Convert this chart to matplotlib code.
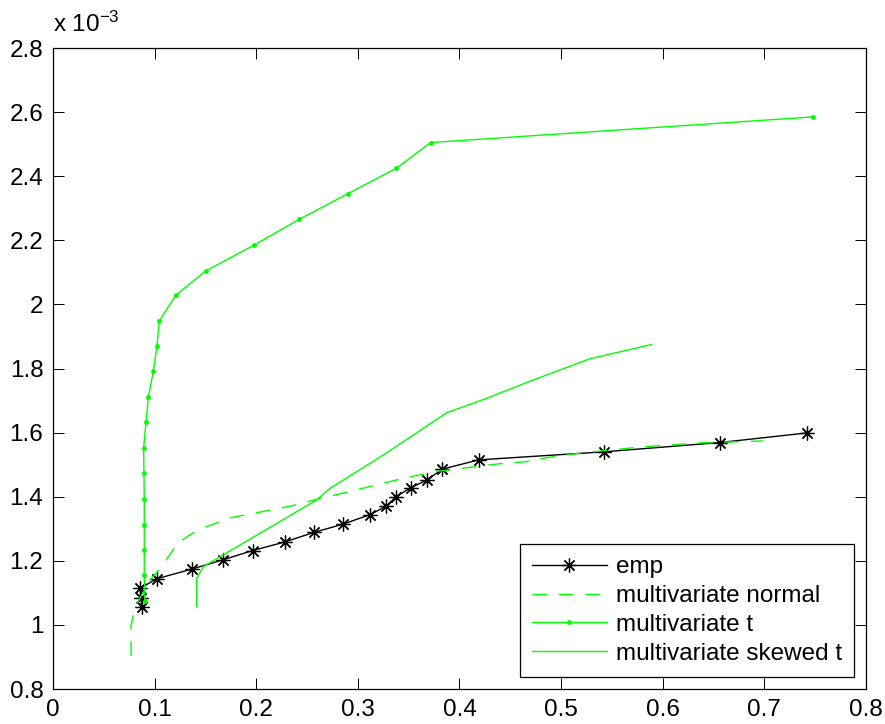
import numpy as np
import matplotlib
matplotlib.use("Agg")
import matplotlib.pyplot as plt
from matplotlib.ticker import FixedLocator, FuncFormatter

plt.rcParams['font.family'] = ['Liberation Sans', 'DejaVu Sans']
plt.rcParams['mathtext.default'] = 'regular'

# Portfolio risk (x) versus expected return (y, in units of 1e-3)
emp_risk = [0.0872, 0.0866, 0.0856, 0.1020, 0.1365, 0.1670, 0.1965, 0.2283,
            0.2570, 0.2850, 0.3120, 0.3280, 0.3375, 0.3520, 0.3680, 0.3830,
            0.4190, 0.5420, 0.6560, 0.7420]
emp_ret = [1.055, 1.085, 1.114, 1.144, 1.174, 1.203, 1.232, 1.259, 1.289,
           1.314, 1.344, 1.371, 1.400, 1.428, 1.452, 1.486, 1.515, 1.540,
           1.569, 1.599]

norm_risk = [0.0768, 0.0768, 0.0817, 0.0955, 0.1073, 0.1230, 0.1348, 0.1476,
             0.1742, 0.2037, 0.2342, 0.2608, 0.2903, 0.3198, 0.3493, 0.3779,
             0.4034, 0.4369, 0.4645, 0.4920, 0.5215, 0.5776, 0.6367, 0.6990]
norm_ret = [0.903, 1.000, 1.062, 1.140, 1.184, 1.256, 1.281, 1.302,
            1.334, 1.352, 1.371, 1.393, 1.415, 1.438, 1.461, 1.479,
            1.489, 1.502, 1.509, 1.525, 1.537, 1.555, 1.568, 1.574]

t_risk = [0.0905, 0.0898, 0.0898, 0.0898, 0.0898, 0.0895, 0.0892, 0.0915,
          0.0938, 0.0987, 0.1023, 0.1046, 0.1210, 0.1506, 0.1980, 0.2420,
          0.2900, 0.3380, 0.3716, 0.7480]
t_ret = [1.076, 1.156, 1.234, 1.313, 1.393, 1.473, 1.553, 1.632, 1.711,
         1.791, 1.870, 1.949, 2.029, 2.105, 2.185, 2.265, 2.345, 2.425,
         2.505, 2.585]

skt_risk = [0.1414, 0.1414, 0.1479, 0.2595, 0.2726, 0.3250, 0.3874, 0.4268,
            0.4723, 0.5280, 0.5891]
skt_ret = [1.057, 1.145, 1.182, 1.390, 1.426, 1.530, 1.662, 1.707,
           1.764, 1.830, 1.875]

x_ticks = [0, 0.1, 0.2, 0.3, 0.4, 0.5, 0.6, 0.7, 0.8]
y_ticks = [0.8, 1.0, 1.2, 1.4, 1.6, 1.8, 2.0, 2.2, 2.4, 2.6, 2.8]

green = (0, 1, 0)
fs = 17.5

fig = plt.figure(figsize=(8.85, 7.24), dpi=100)
ax = fig.add_axes([0.0599, 0.0483, 0.9186, 0.8854])

ax.plot(emp_risk, emp_ret, color='k', lw=1.0, marker=(8, 2, 0),
        markersize=10, markeredgewidth=0.9, label='emp')
ax.plot(norm_risk, norm_ret, color=green, lw=1.0, dashes=(10.5, 8.5),
        label='multivariate normal')
ax.plot(t_risk, t_ret, color=green, lw=1.0, marker='o', markersize=3.5,
        markeredgewidth=0, label='multivariate t')
ax.plot(skt_risk, skt_ret, color=green, lw=1.0,
        label='multivariate skewed t')

ax.set_xlim(0, 0.8)
ax.set_ylim(0.8, 2.8)
ax.xaxis.set_major_locator(FixedLocator(x_ticks))
ax.yaxis.set_major_locator(FixedLocator(y_ticks))
fmt = FuncFormatter(lambda v, p: '%g' % round(v, 4))
ax.xaxis.set_major_formatter(fmt)
ax.yaxis.set_major_formatter(fmt)
ax.tick_params(direction='in', length=8, width=0.7, top=True, right=True,
               labelsize=fs, pad=7, colors='k')
for s in ax.spines.values():
    s.set_linewidth(0.9)

ax.text(0.0, 1.018, r'x 10$^{-3}$', transform=ax.transAxes,
        ha='left', va='bottom', fontsize=fs)

leg = ax.legend(loc='lower right', fontsize=fs, handlelength=3.1,
                labelspacing=0.28, borderaxespad=0.5, fancybox=False,
                framealpha=1, edgecolor='k', handletextpad=0.35,
                borderpad=0.5)
leg.get_frame().set_linewidth(0.9)

fig.savefig('out.png', dpi=100, facecolor='white')
